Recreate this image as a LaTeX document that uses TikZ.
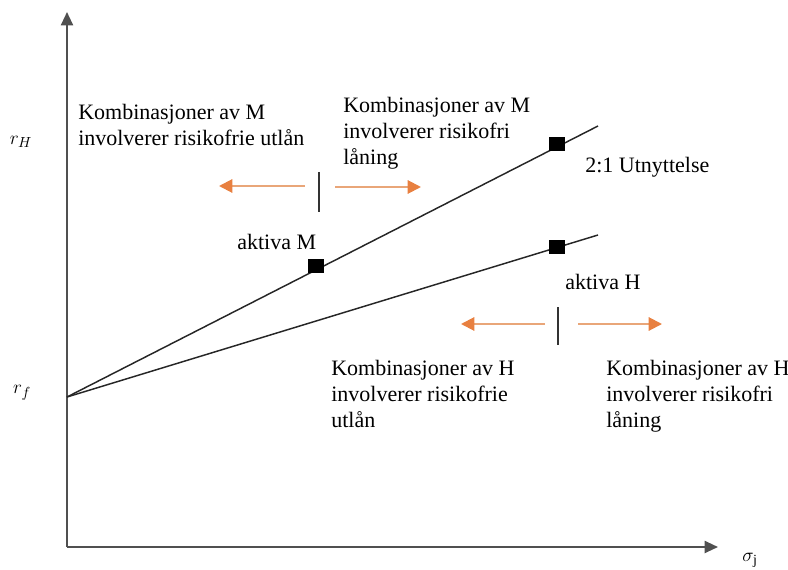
\documentclass[tikz,border=0pt]{standalone}
\usepackage{fontspec}
\setmainfont{Liberation Serif}
\usetikzlibrary{arrows.meta}
\definecolor{axisgray}{RGB}{80,80,80}
\definecolor{arrorange}{RGB}{232,128,64}
\begin{document}
\begin{tikzpicture}[x=0.75pt,y=-0.75pt,
  axis/.style={draw=axisgray,line width=1.5pt,-{Triangle[length=10pt,width=9pt]}},
  cml/.style={draw=black!85,line width=1.1pt},
  asset/.style={fill=black,minimum width=12pt,minimum height=10pt,inner sep=0pt},
  lbl/.style={font=\fontsize{16.5}{19.5}\selectfont,inner sep=0pt,align=left},
  axlbl/.style={font=\fontsize{15}{18}\selectfont},
  orarrow/.style={draw=arrorange!80!brown!70!white,line width=1.5pt,-{Triangle[length=10pt,width=10pt,fill=arrorange,color=arrorange]}},
  tickmark/.style={draw=black!80,line width=1.5pt}]
\useasboundingbox (0,0) rectangle (788,570);
% axes
\coordinate (O) at (67,547);
\coordinate (ytop) at (67,12);
\coordinate (xend) at (718,547);
\draw[axis] (O) -- (ytop);
\draw[axis] (O) -- (xend);
\node[axlbl] (rH) at (21,142) {$r_H$};
\node[axlbl] (rf) at (22,393) {$r_f$};
\node[axlbl] (sig) at (750,560) {$\sigma_{\mathrm j}$};
% lines
\coordinate (rfpt) at (67,397);
\coordinate (Mend) at (598,126);
\coordinate (Hend) at (598,235);
\draw[cml] (rfpt) -- (Mend);
\draw[cml] (rfpt) -- (Hend);
\node[asset] (M) at (316,266) {};
\node[asset] (L) at (557,144) {};
\node[asset] (H) at (557,247) {};
% labels
\node[lbl,anchor=west] (aM) at (237,242) {aktiva M};
\node[lbl,anchor=west] (aH) at (565,282) {aktiva H};
\node[lbl,anchor=west] (lev) at (585,167) {2:1 Utnyttelse};
\node[lbl,anchor=north west] (kM1) at (78,104) {Kombinasjoner av M\\involverer risikofrie utlån};
\node[lbl,anchor=north west] (kM2) at (343,97) {Kombinasjoner av M\\involverer risikofri\\låning};
\node[lbl,anchor=north west] (kH1) at (331,360) {Kombinasjoner av H\\involverer risikofrie\\utlån};
\node[lbl,anchor=north west] (kH2) at (606,360) {Kombinasjoner av H\\involverer risikofri\\låning};
% M arrows
\coordinate (mt1) at (319,172); \coordinate (mt2) at (319,212);
\draw[tickmark] (mt1) -- (mt2);
\coordinate (mls) at (305,186); \coordinate (mle) at (219,186);
\coordinate (mrs) at (335,187); \coordinate (mre) at (421,187);
\draw[orarrow] (mls) -- (mle);
\draw[orarrow] (mrs) -- (mre);
% H arrows
\coordinate (ht1) at (558,307); \coordinate (ht2) at (558,345);
\draw[tickmark] (ht1) -- (ht2);
\coordinate (hls) at (545,324); \coordinate (hle) at (461,324);
\coordinate (hrs) at (578,324); \coordinate (hre) at (662,324);
\draw[orarrow] (hls) -- (hle);
\draw[orarrow] (hrs) -- (hre);
\end{tikzpicture}
\end{document}
